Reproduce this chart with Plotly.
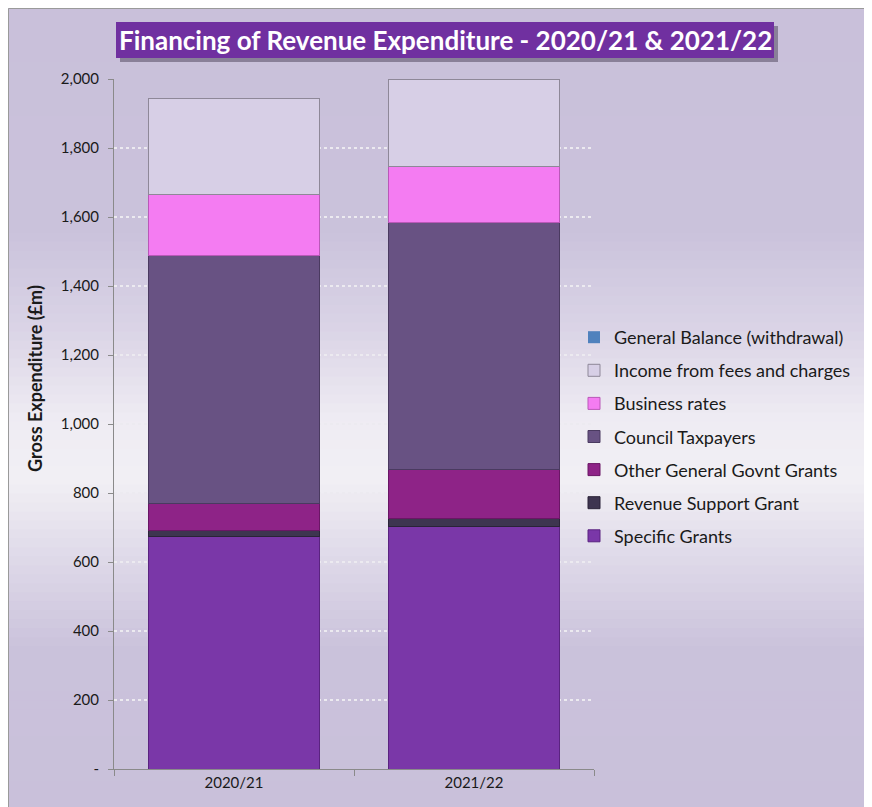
import plotly.graph_objects as go

# ---------------- data ----------------
categories = ["2020/21", "2021/22"]
specific_grants = [674, 704]
revenue_support_grant = [17, 21]
other_general_govnt_grants = [78, 143]
council_taxpayers = [718, 717]
business_rates = [179, 161]
income_fees_charges = [278, 254]
general_balance = [0, 0]

y_tickvals = [0, 200, 400, 600, 800, 1000, 1200, 1400, 1600, 1800, 2000]
y_ticktext = ["-", "200", "400", "600", "800", "1,000", "1,200", "1,400", "1,600", "1,800", "2,000"]

title_text = "Financing of Revenue Expenditure - 2020/21 & 2021/22"
y_title = "Gross Expenditure (£m)"

# ---------------- layout helpers (window pixel coords; page body has 8px margin) ----------------
OFF = 8
W, H = 864, 799
L, R, T, B = 114, 594, 79, 769  # plot area in window pixels


def px(p):
    return (p - L) / (R - L)


def py(p):
    return (B - p) / (B - T)


def hex2rgb(h):
    h = h.lstrip("#")
    return tuple(int(h[i:i + 2], 16) for i in (0, 2, 4))


grad_stops = [
    (0, "#C9C0DA"), (230, "#CAC2DB"), (330, "#DAD4E6"), (420, "#EFECF3"),
    (480, "#F1EFF4"), (570, "#DCD6E7"), (650, "#CAC2DB"), (820, "#C9C0DA"),
]


def grad_color(p):
    for (p0, c0), (p1, c1) in zip(grad_stops[:-1], grad_stops[1:]):
        if p0 <= p <= p1:
            t = (p - p0) / (p1 - p0) if p1 > p0 else 0
            a, b = hex2rgb(c0), hex2rgb(c1)
            r = [round(a[i] + (b[i] - a[i]) * t) for i in range(3)]
            return "rgb(%d,%d,%d)" % tuple(r)
    return grad_stops[-1][1]


shapes = []
n = 90
step = (H + 10) / n
for i in range(n):
    p0 = OFF + i * step
    p1 = OFF + (i + 1) * step + 0.6
    shapes.append(dict(type="rect", xref="paper", yref="paper",
                       x0=px(0), x1=px(W + 20), y0=py(p1), y1=py(p0),
                       fillcolor=grad_color(p0 + step / 2), line=dict(width=0),
                       layer="below"))

# chart-area border (left/top visible)
shapes.append(dict(type="rect", xref="paper", yref="paper",
                   x0=px(8.5), x1=px(W + 30), y0=py(H + 30), y1=py(8.5),
                   line=dict(color="#9A9A9A", width=1), layer="below"))

# title box with shadow
shapes.append(dict(type="rect", xref="paper", yref="paper",
                   x0=px(120), x1=px(778), y0=py(62), y1=py(26),
                   fillcolor="rgba(60,50,70,0.45)", line=dict(width=0), layer="above"))
shapes.append(dict(type="rect", xref="paper", yref="paper",
                   x0=px(116), x1=px(774), y0=py(58), y1=py(22),
                   fillcolor="#7030A0", line=dict(width=0), layer="above"))

series = [
    ("Specific Grants", specific_grants, "#7A37A8", "#5A2380", 1),
    ("Revenue Support Grant", revenue_support_grant, "#3E3550", "#2A2338", 1),
    ("Other General Govnt Grants", other_general_govnt_grants, "#8E2387", "#6A1665", 1),
    ("Council Taxpayers", council_taxpayers, "#685283", "#4A3A60", 1),
    ("Business rates", business_rates, "#F47CF2", "#B958B8", 1),
    ("Income from fees and charges", income_fees_charges, "#D7CFE6", "#8E8898", 1),
    ("General Balance (withdrawal)", general_balance, "#4F81BD", "#385D8A", 0),
]

fig = go.Figure()
for i, (name, vals, col, edge, lw) in enumerate(series):
    fig.add_trace(go.Bar(
        x=categories, y=vals, name=name, legendgroup=name,
        legendrank=100 * (len(series) - i),
        marker=dict(color=col, line=dict(color=edge, width=lw)),
        hoverinfo="x+y+name",
    ))

font_family = "Lato, 'Open Sans', sans-serif"

fig.update_layout(
    width=W, height=H,
    margin=dict(l=L - OFF, r=(W + OFF) - R, t=T - OFF, b=(H + OFF) - B),
    barmode="stack", bargap=0.29,
    paper_bgcolor="#C9C0DA", plot_bgcolor="rgba(0,0,0,0)",
    font=dict(family=font_family, size=15, color="#1A1A1A"),
    showlegend=True,
    legend=dict(
        x=px(574), y=py(319), xanchor="left", yanchor="top",
        traceorder="grouped", tracegroupgap=6.7,
        font=dict(size=18, color="#1A1A1A"), bgcolor="rgba(0,0,0,0)",
        itemwidth=30,
    ),
    shapes=shapes,
    annotations=[
        dict(text="<b>" + title_text + "</b>", xref="paper", yref="paper",
             x=px(445), y=py(40), xanchor="center", yanchor="middle",
             showarrow=False, font=dict(size=26, color="white", family=font_family)),
        dict(text="<b>" + y_title + "</b>", xref="paper", yref="paper",
             x=px(35), y=py(379), xanchor="center", yanchor="middle", textangle=-90,
             showarrow=False, font=dict(size=18, color="#1A1A1A", family=font_family)),
    ],
)

fig.update_xaxes(
    type="category", range=[-0.5, 1.5],
    showline=True, linecolor="#8A8A8A", linewidth=1,
    ticks="outside", tickson="boundaries", ticklen=6, tickcolor="#8A8A8A",
    showgrid=False, tickfont=dict(size=15, color="#1A1A1A"),
)
fig.update_yaxes(
    range=[0, 2000], tickvals=y_tickvals, ticktext=y_ticktext,
    showline=True, linecolor="#8A8A8A", linewidth=1,
    ticks="outside", ticklen=5, tickcolor="#8A8A8A", ticklabelstandoff=6,
    showgrid=True, gridcolor="#ECEAF0", gridwidth=2, griddash="dot",
    zeroline=False, tickfont=dict(size=15, color="#1A1A1A"),
)

fig.write_html("out.html")
